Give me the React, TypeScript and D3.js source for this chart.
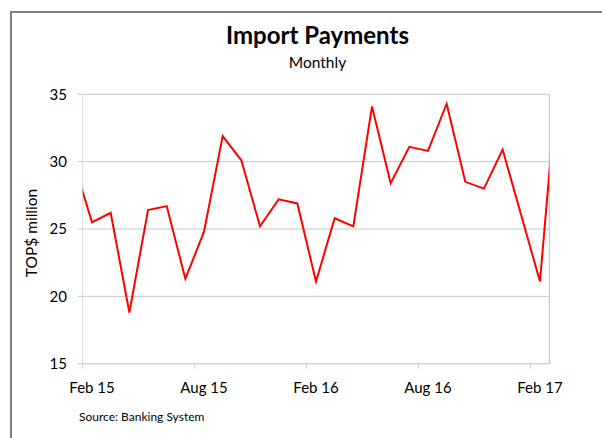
import React, { useEffect, useRef } from 'react';
import * as d3 from 'd3';

// --- Data (monthly, TOP$ million) ---
// Jan 15 and Mar 17 sit just outside the visible window and get clipped by the plot area
const months = [
  'Jan 15', 'Feb 15', 'Mar 15', 'Apr 15', 'May 15', 'Jun 15', 'Jul 15', 'Aug 15', 'Sep 15', 'Oct 15', 'Nov 15', 'Dec 15',
  'Jan 16', 'Feb 16', 'Mar 16', 'Apr 16', 'May 16', 'Jun 16', 'Jul 16', 'Aug 16', 'Sep 16', 'Oct 16', 'Nov 16', 'Dec 16',
  'Jan 17', 'Feb 17', 'Mar 17'
];
const payments = [
  30.0, 25.5, 26.2, 18.8, 26.4, 26.7, 21.3, 24.8, 31.9, 30.1, 25.2, 27.2,
  26.9, 21.1, 25.8, 25.2, 34.1, 28.4, 31.1, 30.8, 34.3, 28.5, 28.0, 30.9,
  26.0, 21.1, 37.2
];
const xLabels = ['Feb 15', 'Aug 15', 'Feb 16', 'Aug 16', 'Feb 17'];
const yTicks = [15, 20, 25, 30, 35];

const FONT = 'Lato, "Open Sans", sans-serif';

const ImportPaymentsChart = () => {
  const ref = useRef<SVGSVGElement | null>(null);

  useEffect(() => {
    if (!ref.current) return;
    const svg = d3.select(ref.current);
    svg.selectAll('*').remove();

    const width = 602, height = 438;
    const plot = { left: 82.7, right: 549.3, top: 94.3, bottom: 363.7 };

    // visible window: Feb 15 .. Feb 17, points sit in the middle of each month slot
    const firstIdx = months.indexOf('Feb 15');
    const lastIdx = months.indexOf('Feb 17');
    const x = d3.scaleLinear().domain([firstIdx - 0.5, lastIdx + 0.5]).range([plot.left, plot.right]);
    const y = d3.scaleLinear().domain([15, 35]).range([plot.bottom, plot.top]);

    svg.attr('width', width).attr('height', height);
    svg.append('rect').attr('width', width).attr('height', height).attr('fill', '#fff');

    // outer chart border (runs off the picture on the right and bottom)
    svg.append('rect')
      .attr('x', 11).attr('y', 12).attr('width', 700).attr('height', 500)
      .attr('fill', 'none').attr('stroke', '#7f7f7f').attr('stroke-width', 2);

    // titles
    svg.append('text').attr('x', 317.5).attr('y', 44).attr('text-anchor', 'middle')
      .style('font-family', FONT).style('font-weight', 700).style('font-size', '24px').attr('fill', '#000')
      .text('Import Payments');
    svg.append('text').attr('x', 317.5).attr('y', 68).attr('text-anchor', 'middle')
      .style('font-family', FONT).style('font-size', '15.5px').attr('fill', '#000')
      .text('Monthly');

    // gridlines + y ticks
    const grid = svg.append('g');
    grid.selectAll('line.grid').data(yTicks).enter().append('line')
      .attr('class', 'grid')
      .attr('x1', plot.left - 5).attr('x2', plot.right)
      .attr('y1', d => y(d)).attr('y2', d => y(d))
      .attr('stroke', '#c6c6c6').attr('stroke-width', 1);
    grid.selectAll('text').data(yTicks).enter().append('text')
      .attr('x', 67).attr('y', d => y(d)).attr('dy', '0.35em').attr('text-anchor', 'end')
      .style('font-family', FONT).style('font-size', '15px').attr('fill', '#000')
      .text(d => d);

    // plot frame
    svg.append('line').attr('x1', plot.left).attr('x2', plot.left).attr('y1', plot.top).attr('y2', plot.bottom)
      .attr('stroke', '#d9d9d9');
    svg.append('line').attr('x1', plot.right).attr('x2', plot.right).attr('y1', plot.top).attr('y2', plot.bottom)
      .attr('stroke', '#bfbfbf');
    svg.append('line').attr('x1', plot.left).attr('x2', plot.right).attr('y1', plot.bottom).attr('y2', plot.bottom)
      .attr('stroke', '#d0d0d0');

    // x ticks between month slots, labels centred on the month
    const labelIdx = xLabels.map(l => months.indexOf(l));
    svg.selectAll('line.xtick').data(labelIdx).enter().append('line')
      .attr('class', 'xtick')
      .attr('x1', d => x(d - 0.5)).attr('x2', d => x(d - 0.5))
      .attr('y1', plot.bottom).attr('y2', plot.bottom + 5)
      .attr('stroke', '#d0d0d0');
    svg.selectAll('text.xlab').data(xLabels).enter().append('text')
      .attr('class', 'xlab')
      .attr('x', d => x(months.indexOf(d))).attr('y', 393).attr('text-anchor', 'middle')
      .style('font-family', FONT).style('font-size', '15px').attr('fill', '#000')
      .text(d => d);

    // y axis title
    svg.append('text')
      .attr('transform', `translate(37, ${(plot.top + plot.bottom) / 2 + 4}) rotate(-90)`)
      .attr('text-anchor', 'middle')
      .style('font-family', FONT).style('font-size', '15.5px').attr('fill', '#000')
      .text('TOP$ million');

    // series line, clipped to the plot area
    svg.append('clipPath').attr('id', 'plot-clip').append('rect')
      .attr('x', plot.left).attr('y', plot.top - 10)
      .attr('width', plot.right - plot.left).attr('height', plot.bottom - plot.top + 10);
    const line = d3.line<number>().x((d, i) => x(i)).y(d => y(d));
    svg.append('path').datum(payments)
      .attr('clip-path', 'url(#plot-clip)')
      .attr('d', line)
      .attr('fill', 'none').attr('stroke', '#ff0000').attr('stroke-width', 2)
      .attr('stroke-linejoin', 'miter');

    // source note
    svg.append('text').attr('x', 79).attr('y', 421)
      .style('font-family', FONT).style('font-size', '12px').attr('fill', '#000')
      .text('Source: Banking System');
  }, []);

  return <svg ref={ref} style={{ position: 'absolute', left: 0, top: 0, display: 'block' }} />;
};

export default function App() {
  return <ImportPaymentsChart />;
}
